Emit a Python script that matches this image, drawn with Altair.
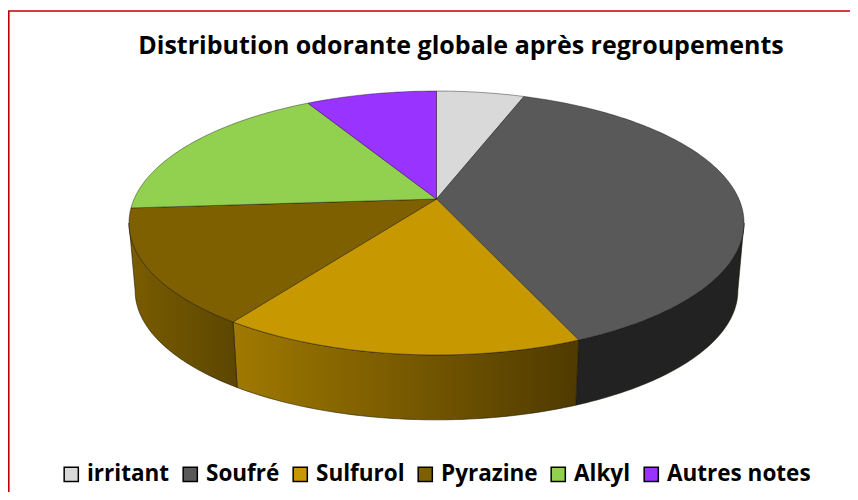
import math
import altair as alt
import pandas as pd

TITLE = "Distribution odorante globale après regroupements"
names = ["irritant", "Soufré", "Sulfurol", "Pyrazine", "Alkyl", "Autres notes"]
values = [5.5, 38.1, 16.1, 14.2, 17.9, 8.2]
colors = ["#d9d9d9", "#595959", "#c89800", "#7f6000", "#92d050", "#9933ff"]

# perspective tilt of the disc and height of its wall, in disc units
TILT = 0.1818
WALL_SCALE = 0.98
WALL_DROP = 0.533
TANGENT = math.degrees(math.acos(-TILT))  # where the rim is widest, right side


def project(theta):
    u, v = math.sin(theta), -math.cos(theta)
    w = 1 / (1 - TILT * v)
    return u * w, v * w


def sweep(a, b, step=1.0):
    n = max(2, int(abs(b - a) / step) + 2)
    return [math.radians(a + (b - a) * i / (n - 1)) for i in range(n)]


total = sum(values)
edges = [0.0]
for val in values:
    edges.append(edges[-1] + val / total * 360)

top_rows = []
for name, a, b in zip(names, edges[:-1], edges[1:]):
    pts = [(0.0, 0.0)] + [project(t) for t in sweep(a, b)] + [(0.0, 0.0)]
    for i, (x, y) in enumerate(pts):
        top_rows.append({"name": name, "i": i, "x": x, "y": y})
top_df = pd.DataFrame(top_rows)


def wall_df(a, b):
    rim = [project(t) for t in sweep(a, b)]
    low = [(x * WALL_SCALE, y * WALL_SCALE + WALL_DROP) for x, y in rim]
    pts = rim + low[::-1] + rim[:1]
    return pd.DataFrame([{"i": i, "x": x, "y": y} for i, (x, y) in enumerate(pts)])


X = alt.X("x:Q", axis=None, scale=alt.Scale(domain=[-1, 1], range=[126.1, 730.9]))
Y = alt.Y("y:Q", axis=None, scale=alt.Scale(domain=[-1, 1], range=[63.4, 318.6]))


def hgrad(left, right):
    return alt.LinearGradient(
        gradient="linear", x1=0, x2=1, y1=0, y2=0,
        stops=[alt.GradientStop(offset=0, color=left), alt.GradientStop(offset=1, color=right)],
    )


def wall(a, b, fill):
    return alt.Chart(wall_df(a, b)).mark_line(
        fill=fill, stroke="#1a1400", strokeWidth=0.7, strokeOpacity=0.8, clip=False
    ).encode(x=X, y=Y, order="i:Q")


walls = [
    wall(TANGENT, edges[2], "#222222"),
    wall(edges[2], edges[3], hgrad("#a07900", "#4f3a00")),
    wall(edges[3], 360 - TANGENT, hgrad("#7a5c00", "#5c4600")),
]

fill_scale = alt.Scale(domain=names, range=colors)
tops = alt.Chart(top_df).mark_line(
    stroke="#000000", strokeWidth=0.7, strokeOpacity=0.55, clip=False
).encode(
    x=X, y=Y, order="i:Q", detail="name:N",
    fill=alt.Fill(
        "name:N", scale=fill_scale,
        legend=alt.Legend(
            title=None, orient="none", legendX=52, legendY=455, direction="horizontal",
            columns=6, columnPadding=9, symbolType="square", symbolSize=200,
            symbolStrokeColor="#000000", symbolStrokeWidth=1.5, symbolOpacity=1,
            labelFont="Open Sans", labelFontWeight="bold", labelFontSize=22.5, labelColor="#000000",
            labelOffset=4.5, labelLimit=300,
        ),
    ),
)

frame_left = alt.Chart(pd.DataFrame({"k": [0]})).mark_rule(color="#c00000", strokeWidth=1.6).encode(
    x=alt.value(0.8), y=alt.value(3), y2=alt.value(484)
)
frame_top = alt.Chart(pd.DataFrame({"k": [0]})).mark_rule(color="#c00000", strokeWidth=1.6).encode(
    x=alt.value(0), x2=alt.value(842), y=alt.value(3)
)

chart = alt.layer(frame_left, frame_top, *walls, tops).properties(
    width=842, height=484, padding=0, autosize=alt.AutoSizeParams(type="none"),
    title=alt.TitleParams(
        TITLE, font="Open Sans", fontWeight="bold", fontSize=25, color="#000000",
        anchor="middle", dx=32, dy=51, offset=0,
    ),
).configure_view(stroke=None)

chart.save("out.html", embed_options={"renderer": "svg", "actions": False})
